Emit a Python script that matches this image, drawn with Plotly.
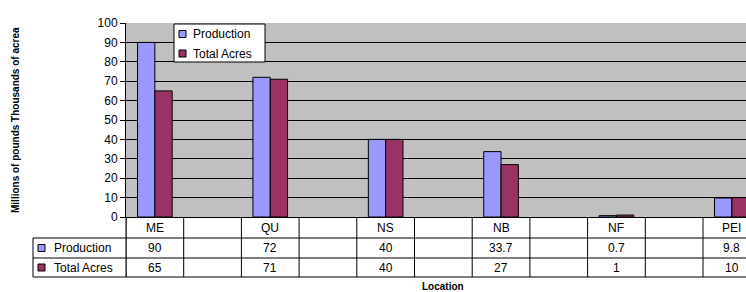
import plotly.graph_objects as go

columns = ["ME", "", "QU", "", "NS", "", "NB", "", "NF", "", "PEI"]
production = [90, None, 72, None, 40, None, 33.7, None, 0.7, None, 9.8]
total_acres = [65, None, 71, None, 40, None, 27, None, 1, None, 10]
production_labels = ["90", "", "72", "", "40", "", "33.7", "", "0.7", "", "9.8"]
acres_labels = ["65", "", "71", "", "40", "", "27", "", "1", "", "10"]
series_names = ["Production", "Total Acres"]
series_colors = ["#9999FF", "#993366"]

FONT = "Arial, Liberation Sans, sans-serif"
W, H = 746, 292
L, T, B = 126, 23, 75
xs = list(range(len(columns)))

fig = go.Figure()
for name, vals, col in zip(series_names, [production, total_acres], series_colors):
    fig.add_trace(go.Bar(
        x=xs, y=vals, name=name,
        marker=dict(color=col, line=dict(color="black", width=1)),
        showlegend=False,
    ))

shapes = []
annots = []

def hline(px_y, x_from_px, x_to_px):
    shapes.append(dict(type="line", xref="paper", yref="paper",
                       xsizemode="pixel", ysizemode="pixel", xanchor=0, yanchor=0,
                       x0=x_from_px, x1=x_to_px, y0=-px_y, y1=-px_y,
                       line=dict(color="black", width=1)))

# table horizontal lines (px below the x-axis)
for dy in [21, 41, 60]:
    hline(dy, 33 - L, W - L + 10)
# table vertical column lines
for k in range(len(columns) + 1):
    shapes.append(dict(type="line", xref="x", yref="paper",
                       ysizemode="pixel", yanchor=0,
                       x0=k - 0.5, x1=k - 0.5, y0=0, y1=-60,
                       line=dict(color="black", width=1)))
# left border of legend column and at plot left
for px in [33 - L, 0]:
    shapes.append(dict(type="line", xref="paper", yref="paper",
                       xsizemode="pixel", ysizemode="pixel", xanchor=0, yanchor=0,
                       x0=px, x1=px, y0=-21 if px < 0 else 0, y1=-60,
                       line=dict(color="black", width=1)))

# table text
row_y = [-10.5, -31, -50.5]
for i, c in enumerate(columns):
    for txt, dy in zip([c, production_labels[i], acres_labels[i]], row_y):
        if txt:
            annots.append(dict(xref="x", yref="paper", x=i, y=0, yshift=dy,
                               text=txt, showarrow=False, xanchor="center", yanchor="middle",
                               font=dict(family=FONT, size=12, color="black")))

# table row keys
for name, col, dy in zip(series_names, series_colors, row_y[1:]):
    shapes.append(dict(type="rect", xref="paper", yref="paper",
                       xsizemode="pixel", ysizemode="pixel", xanchor=0, yanchor=0,
                       x0=38 - L, x1=45 - L, y0=dy - 3.5, y1=dy + 3.5,
                       fillcolor=col, line=dict(color="black", width=1)))
    annots.append(dict(xref="paper", yref="paper", x=0, y=0, xshift=52 - L, yshift=dy,
                       text=name, showarrow=False, xanchor="left", yanchor="middle",
                       font=dict(family=FONT, size=12, color="black")))

# legend box (manual)
shapes.append(dict(type="rect", xref="paper", yref="paper",
                   xsizemode="pixel", ysizemode="pixel", xanchor=0, yanchor=1,
                   x0=174 - L, x1=265 - L, y0=-(24 - T), y1=-(62 - T),
                   fillcolor="white", line=dict(color="black", width=1)))
for name, col, cy in zip(series_names, series_colors, [34, 53.5]):
    shapes.append(dict(type="rect", xref="paper", yref="paper",
                       xsizemode="pixel", ysizemode="pixel", xanchor=0, yanchor=1,
                       x0=179 - L, x1=186 - L, y0=-(cy - 3.5 - T), y1=-(cy + 3.5 - T),
                       fillcolor=col, line=dict(color="black", width=1)))
    annots.append(dict(xref="paper", yref="paper", x=0, y=1, xshift=191 - L, yshift=-(cy - T),
                       text=name, showarrow=False, xanchor="left", yanchor="middle",
                       font=dict(family=FONT, size=12, color="black")))

# axis titles
annots.append(dict(xref="paper", yref="paper", x=0, y=0.5, xshift=15 - L,
                   text="<b>Millions of pounds Thousands of acrea</b>", textangle=-90,
                   showarrow=False, xanchor="center", yanchor="middle",
                   font=dict(family=FONT, size=10, color="black")))
annots.append(dict(xref="x", yref="paper", x=5, y=0, yshift=-69,
                   text="<b>Location</b>", showarrow=False, xanchor="center", yanchor="middle",
                   font=dict(family=FONT, size=10, color="black")))

span = (W - L) / 57.7
fig.update_layout(
    width=W, height=H,
    margin=dict(l=L, r=0, t=T, b=B, pad=0),
    paper_bgcolor="white", plot_bgcolor="#C0C0C0",
    barmode="group", bargap=0.4, bargroupgap=0,
    showlegend=False,
    shapes=shapes, annotations=annots,
    xaxis=dict(range=[-0.5, -0.5 + span], showticklabels=False, ticks="",
               showgrid=False, zeroline=False, showline=True, linecolor="black", linewidth=1,
               fixedrange=True),
    yaxis=dict(range=[0, 100], dtick=10, tick0=0, ticks="outside", ticklen=5, tickcolor="black",
               showline=True, linecolor="black", linewidth=1,
               gridcolor="black", gridwidth=1, zeroline=False,
               tickfont=dict(family=FONT, size=12, color="black"), fixedrange=True),
)
fig.write_html(
    "out.html",
    config={"displayModeBar": False},
    post_script="document.body.style.margin='0';document.body.style.overflow='hidden';",
)
